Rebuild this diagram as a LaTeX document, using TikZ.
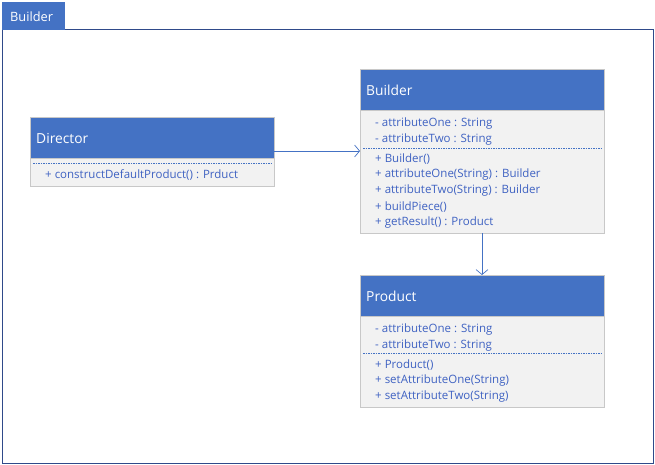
\documentclass[tikz,border=0pt]{standalone}
\usepackage{fontspec}
\setmainfont{Open Sans}
\usetikzlibrary{arrows.meta}
\definecolor{hdr}{HTML}{4472C4}
\definecolor{frm}{HTML}{2F4A8A}
\definecolor{bodyfill}{HTML}{F2F2F2}
\definecolor{bodyline}{HTML}{C8C8C8}
\definecolor{txt}{HTML}{3F62C2}
\tikzset{
  head/.style={draw=bodyline, fill=hdr, anchor=north west, minimum width=244pt, inner sep=0pt, outer sep=0pt},
  body/.style={draw=bodyline, fill=bodyfill, anchor=north west, minimum width=244pt, inner sep=0pt, outer sep=0pt},
  htext/.style={anchor=west, text=white, font=\fontsize{13.8}{16}\selectfont, inner sep=0pt, yshift=-1pt},
  mtext/.style={anchor=west, text=txt, font=\fontsize{11.5}{13}\selectfont, inner sep=0pt, yshift=-1.5pt},
  sep/.style={draw=hdr, dash pattern=on 1.5pt off 1pt, line width=0.8pt},
  arr/.style={draw=hdr, line width=0.7pt, -{Straight Barb[length=5pt,width=12pt]}},
}
\begin{document}
\begin{tikzpicture}[x=1pt,y=-1pt]
\useasboundingbox (0,0) rectangle (655,465);
% frame
\node[draw=frm, line width=0.8pt, anchor=north west, minimum width=651pt, minimum height=434pt, inner sep=0pt] (frame) at (2,29) {};
\node[fill=hdr, draw=hdr, line width=0.5pt, anchor=north west, minimum width=62pt, minimum height=27pt, inner sep=0pt] (tab) at (2,2) {};
\node[htext, font=\fontsize{12.8}{15}\selectfont] (tabtext) at (10,16) {Builder};
% Director
\node[head, minimum height=41pt] (dirhead) at (30,117) {};
\node[body, minimum height=28pt] (dirbody) at (30,158) {};
\node[htext] (dirname) at (36,137.5) {Director};
\coordinate (dirsepl) at (33,163);
\coordinate (dirsepr) at (271,163);
\draw[sep] (dirsepl) -- (dirsepr);
\node[mtext] (dm1) at (45,174) {+ constructDefaultProduct() : Prduct};
% Builder
\node[head, minimum height=41pt] (bhead) at (360,69) {};
\node[body, minimum height=123pt] (bbody) at (360,110) {};
\node[htext] (bname) at (366,89.5) {Builder};
\node[mtext] (ba1) at (375,122) {- attributeOne : String};
\node[mtext] (ba2) at (375,138) {- attributeTwo : String};
\coordinate (bsepl) at (363,148);
\coordinate (bsepr) at (601,148);
\draw[sep] (bsepl) -- (bsepr);
\node[mtext] (bm1) at (375,157.5) {+ Builder()};
\node[mtext] (bm2) at (375,173.5) {+ attributeOne(String) : Builder};
\node[mtext] (bm3) at (375,189.5) {+ attributeTwo(String) : Builder};
\node[mtext] (bm4) at (375,205.5) {+ buildPiece()};
\node[mtext] (bm5) at (375,221.5) {+ getResult() : Product};
% Product
\node[head, minimum height=41pt] (phead) at (360,275) {};
\node[body, minimum height=91pt] (pbody) at (360,316) {};
\node[htext] (pname) at (366,295.5) {Product};
\node[mtext] (pa1) at (375,328) {- attributeOne : String};
\node[mtext] (pa2) at (375,344) {- attributeTwo : String};
\coordinate (psepl) at (363,353);
\coordinate (psepr) at (601,353);
\draw[sep] (psepl) -- (psepr);
\node[mtext] (pm1) at (375,363.5) {+ Product()};
\node[mtext] (pm2) at (375,379.5) {+ setAttributeOne(String)};
\node[mtext] (pm3) at (375,395.5) {+ setAttributeTwo(String)};
% connectors
\coordinate (arry) at (0,151);
\draw[arr] (dirhead.east |- arry) -- (bbody.west |- arry);
\coordinate (arrx) at (482,0);
\draw[arr] (bbody.south -| arrx) -- (phead.north -| arrx);
\end{tikzpicture}
\end{document}
